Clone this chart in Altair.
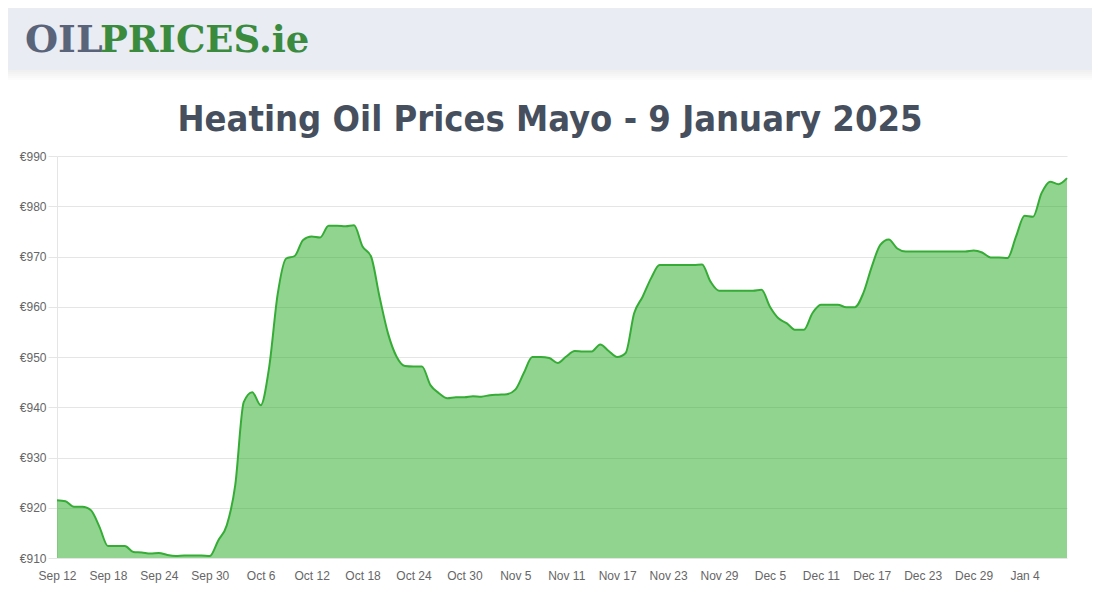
import altair as alt
import pandas as pd

# ---------------- data ----------------
start_date = "2024-09-12"
prices = [
    921.5, 921.3, 920.2, 920.2, 919.5, 916.2, 912.4, 912.4, 912.4, 911.2,   # Sep 12-21
    911.1, 910.9, 911.0, 910.6, 910.4, 910.5, 910.5, 910.5, 910.4, 913.5,   # Sep 22-Oct 1
    916.5, 924.5, 941.0, 943.0, 940.4, 948.0, 962.5, 969.6, 970.1, 973.3,   # Oct 2-11
    974.0, 973.8, 976.1, 976.1, 976.0, 976.2, 972.0, 970.0, 962.0, 954.7,   # Oct 12-21
    950.1, 948.2, 948.1, 948.1, 944.4, 942.8, 941.8, 942.0, 942.0, 942.2,   # Oct 22-31
    942.1, 942.4, 942.5, 942.6, 943.5, 946.8, 950.0, 950.0, 949.8, 948.8,   # Nov 1-10
    950.1, 951.2, 951.1, 951.1, 952.5, 951.2, 950.0, 950.8, 958.7, 962.0,   # Nov 11-20
    965.7, 968.3, 968.3, 968.3, 968.3, 968.3, 968.4, 965.0, 963.2, 963.2,   # Nov 21-30
    963.2, 963.2, 963.2, 963.4, 960.0, 957.7, 956.7, 955.4, 955.4, 958.7,   # Dec 1-10
    960.4, 960.4, 960.4, 959.9, 959.9, 962.7, 968.0, 972.3, 973.4, 971.6,   # Dec 11-20
    971.0, 971.0, 971.0, 971.0, 971.0, 971.0, 971.0, 971.0, 971.2, 970.8,   # Dec 21-30
    969.8, 969.8, 969.7, 974.0, 978.1, 977.9, 982.6, 984.9, 984.4, 985.6,   # Dec 31-Jan 9
]
tick_days = [0, 6, 12, 18, 24, 30, 36, 42, 48, 54, 60, 66, 72, 78, 84, 90, 96, 102, 108, 114]
tick_labels = ["Sep 12", "Sep 18", "Sep 24", "Sep 30", "Oct 6", "Oct 12", "Oct 18",
               "Oct 24", "Oct 30", "Nov 5", "Nov 11", "Nov 17", "Nov 23", "Nov 29",
               "Dec 5", "Dec 11", "Dec 17", "Dec 23", "Dec 29", "Jan 4"]
y_ticks = [910, 920, 930, 940, 950, 960, 970, 980, 990]
title_text = "Heating Oil Prices Mayo - 9 January 2025"

df = pd.DataFrame({
    "day": list(range(len(prices))),
    "date": pd.date_range(start_date, periods=len(prices)).strftime("%Y-%m-%d"),
    "price": prices,
})
one = pd.DataFrame({"k": [0]})

W, H = 1010, 402
PAD_L, PAD_T, PAD_R, PAD_B = 49, 148, 25, 34

label_expr = "{}[indexof({}, datum.value)]".format(
    "[" + ",".join("'%s'" % s for s in tick_labels) + "]",
    "[" + ",".join(str(d) for d in tick_days) + "]",
)

x_enc = alt.X(
    "day:Q",
    scale=alt.Scale(domain=[0, len(prices) - 1], nice=False, zero=False),
    axis=alt.Axis(values=tick_days, labelExpr=label_expr, grid=False, ticks=False,
                  domain=False, labelPadding=12, labelFont="Liberation Sans",
                  labelFontSize=12, labelColor="#666666", title=None, labelAngle=0,
                  labelOverlap=False, labelFlush=False),
)
y_enc = alt.Y(
    "price:Q",
    scale=alt.Scale(domain=[910, 990], nice=False, zero=False),
    axis=alt.Axis(values=y_ticks, labelExpr="'€' + datum.value", gridColor="#e5e5e5",
                  tickColor="#e5e5e5", tickSize=9, domainColor="#e5e5e5",
                  labelPadding=2, labelFont="Liberation Sans", labelFontSize=12,
                  labelColor="#666666", title=None, labelFlush=False),
)

base = alt.Chart(df)
area = base.mark_area(interpolate="monotone", fill="#22aa22", fillOpacity=0.5).encode(
    x=x_enc, y=y_enc, y2=alt.datum(910))
line = base.mark_line(interpolate="monotone", color="#36ac36", strokeWidth=2).encode(
    x="day:Q", y="price:Q")

# header decoration
header = alt.Chart(one).mark_rect(color="#e9ecf3").encode(
    x=alt.value(-PAD_L), x2=alt.value(W + PAD_R), y=alt.value(-PAD_T), y2=alt.value(-86))
shadows = [
    alt.Chart(one).mark_rect(color="#000000", opacity=0.012).encode(
        x=alt.value(-PAD_L), x2=alt.value(W + PAD_R), y=alt.value(-86), y2=alt.value(-86 + h))
    for h in (2, 4, 6, 8, 10)
]
logo_oil = alt.Chart(one).mark_text(
    text="OIL", align="left", baseline="alphabetic", font="DejaVu Serif",
    fontWeight="bold", fontSize=38, color="#59637a").encode(
    x=alt.value(-32), y=alt.value(-104))
logo_prices = alt.Chart(one).mark_text(
    text="PRICES.ie", align="left", baseline="alphabetic", font="DejaVu Serif",
    fontWeight="bold", fontSize=37, color="#3a8b3e").encode(
    x=alt.value(43), y=alt.value(-104))
title = alt.Chart(one).mark_text(
    text=title_text, align="center", baseline="alphabetic",
    font="DejaVu Sans Condensed, sans-serif",
    fontWeight="bold", fontSize=36, color="#464f5e").encode(
    x=alt.value(493), y=alt.value(-25))

chart = alt.layer(area, line, header, *shadows, logo_oil, logo_prices, title).properties(
    width=W, height=H,
    padding={"left": PAD_L, "top": PAD_T, "right": PAD_R, "bottom": PAD_B},
    autosize=alt.AutoSizeParams(type="none"),
    background="white",
).configure_view(stroke=None)

chart.save("out.html", embed_options={"renderer": "svg", "actions": False})
